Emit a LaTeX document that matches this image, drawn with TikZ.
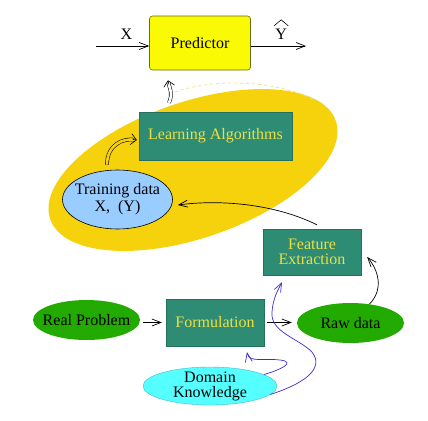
\documentclass[tikz,border=0pt]{standalone}
\usepackage{fontspec}
\setmainfont{Liberation Serif}
\usetikzlibrary{arrows.meta,shapes.geometric,calc}
\definecolor{predfill}{HTML}{FAFA05}
\definecolor{preddraw}{HTML}{6B6B10}
\definecolor{tealbox}{HTML}{2E8B74}
\definecolor{tealtext}{HTML}{EEE040}
\definecolor{gold}{HTML}{F6D20C}
\definecolor{dashy}{HTML}{F3E08A}
\definecolor{lblue}{HTML}{99CCFF}
\definecolor{grn}{HTML}{22AA00}
\definecolor{cyn}{HTML}{55FFFF}
\definecolor{cyndraw}{HTML}{44BBCC}
\definecolor{bluec}{HTML}{3A2ED0}
\tikzset{
  txt/.style={font=\fontsize{16}{17}\selectfont, align=center, inner sep=0pt},
  predbox/.style={txt, draw=preddraw, fill=predfill, rounded corners=3pt, line width=0.6pt, minimum width=101pt, minimum height=54pt},
  tbox/.style={txt, fill=tealbox, text=tealtext, draw=tealbox!80!black, line width=0.3pt},
  ell/.style={ellipse, inner sep=0pt},
  gell/.style={ell, fill=grn, minimum width=107pt, minimum height=40pt},
  arr/.style={line width=0.7pt, -{Straight Barb[length=9pt,width=7pt]}},
  dbl/.style={double, double distance=2.6pt, line width=0.55pt, shorten >=2pt},
  dblhead/.style={line width=0.6pt, -{Straight Barb[length=5.5pt,width=11pt]}},
  barr/.style={draw=bluec, line width=0.7pt, -{Straight Barb[length=9pt,width=7pt]}},
}
\begin{document}
\begin{tikzpicture}[x=1pt,y=-1pt]
\useasboundingbox (0,0) rectangle (428,420);
% big yellow region
\fill[gold] (193,170) ellipse [x radius=151, y radius=68, rotate=19];
\draw[dashy, dashed, line width=0.8pt] (175,92) .. controls (215,78) and (275,80) .. (315,100);
% nodes
\node[predbox] (pred) at (200,43) {Predictor};
\node[tbox, minimum width=153pt, minimum height=48pt] (learn) at (215.5,136) {Learning Algorithms};
\node[ell, draw=black, fill=lblue, line width=0.6pt, minimum width=110pt, minimum height=59pt] (train) at (117.5,199.5) {};
\node[txt] (trainlbl) at (train) {Training data\\X,\ \ (Y)};
\node[tbox, minimum width=98pt, minimum height=46pt] (feat) at (312,252) {Feature\\[-2pt]Extraction};
\node[gell] (real) at (86.5,320) {};
\node[txt] (reallbl) at (real) {Real Problem};
\node[tbox, minimum width=98pt, minimum height=47pt] (form) at (215,322.5) {Formulation};
\node[gell] (raw) at (350.5,323) {};
\node[txt] (rawlbl) at (raw) {Raw data};
\node[ell, fill=cyn, draw=cyndraw, line width=0.4pt, minimum width=134pt, minimum height=38pt] (dom) at (210,386) {};
\node[txt] (domlbl) at (dom) {Domain\\[-2pt]Knowledge};
% input / output
\coordinate (xin) at (96,46);
\coordinate (yout) at (306,46);
\draw[arr] (xin) -- (xin -| pred.west) node[txt, pos=0.57, above=6pt] (xl) {X};
\draw[arr] (yout -| pred.east) -- (yout) node[txt, pos=0.55, above=6pt] (yl) {Y};
\draw[line width=0.6pt, line join=miter] ([xshift=-1pt,yshift=3pt]yl.north west) -- ([yshift=9pt]yl.north) -- ([xshift=1pt,yshift=3pt]yl.north east);
% connectors
\draw[arr, shorten <=3pt, shorten >=4pt] (real.east |- form.west) -- (form.west);
\draw[arr, shorten <=3pt, shorten >=5pt] (form.east) -- (form.east -| raw.west);
\draw[arr] (raw.45) .. controls +(14,-14) and +(12,14) .. ([xshift=6pt,yshift=-5pt]feat.east);
\draw[arr] ([xshift=5pt,yshift=4pt]feat.north) .. controls +(-40,-20) and +(45,-6) .. ([xshift=5pt,yshift=-5.5pt]train.east);
% double arrows
\coordinate (tip1) at ([xshift=-2pt,yshift=-4pt]learn.west);
\coordinate (pre1) at ($(tip1)+(-4,-0.6)$);
\draw[dbl, double=gold] ([xshift=-10.5pt,yshift=5pt]train.north) .. controls +(0,-20) and +(-14,-2) .. (tip1);
\draw[dblhead] (pre1) -- (tip1);
\coordinate (tip2) at ([xshift=-32pt,yshift=-10pt]pred.south);
\coordinate (pre2) at ($(tip2)+(0.8,4)$);
\draw[dbl, double=white] ([xshift=-46.5pt,yshift=9pt]learn.north) .. controls +(4,-10) and +(2,10) .. (tip2);
\draw[dblhead] (pre2) -- (tip2);
% domain knowledge influences
\draw[barr] (dom.12) .. controls (280,370) and (297,362) .. (280,360) .. controls (265,358) and (249,363) .. ([xshift=32pt,yshift=-6pt]form.south);
\draw[barr] (dom.-8) .. controls (300,385) and (326,370) .. (312,352) .. controls (298,338) and (270,332) .. (272,312) .. controls (273,298) and (278,290) .. ([xshift=-30pt,yshift=-7pt]feat.south);
\end{tikzpicture}
\end{document}
